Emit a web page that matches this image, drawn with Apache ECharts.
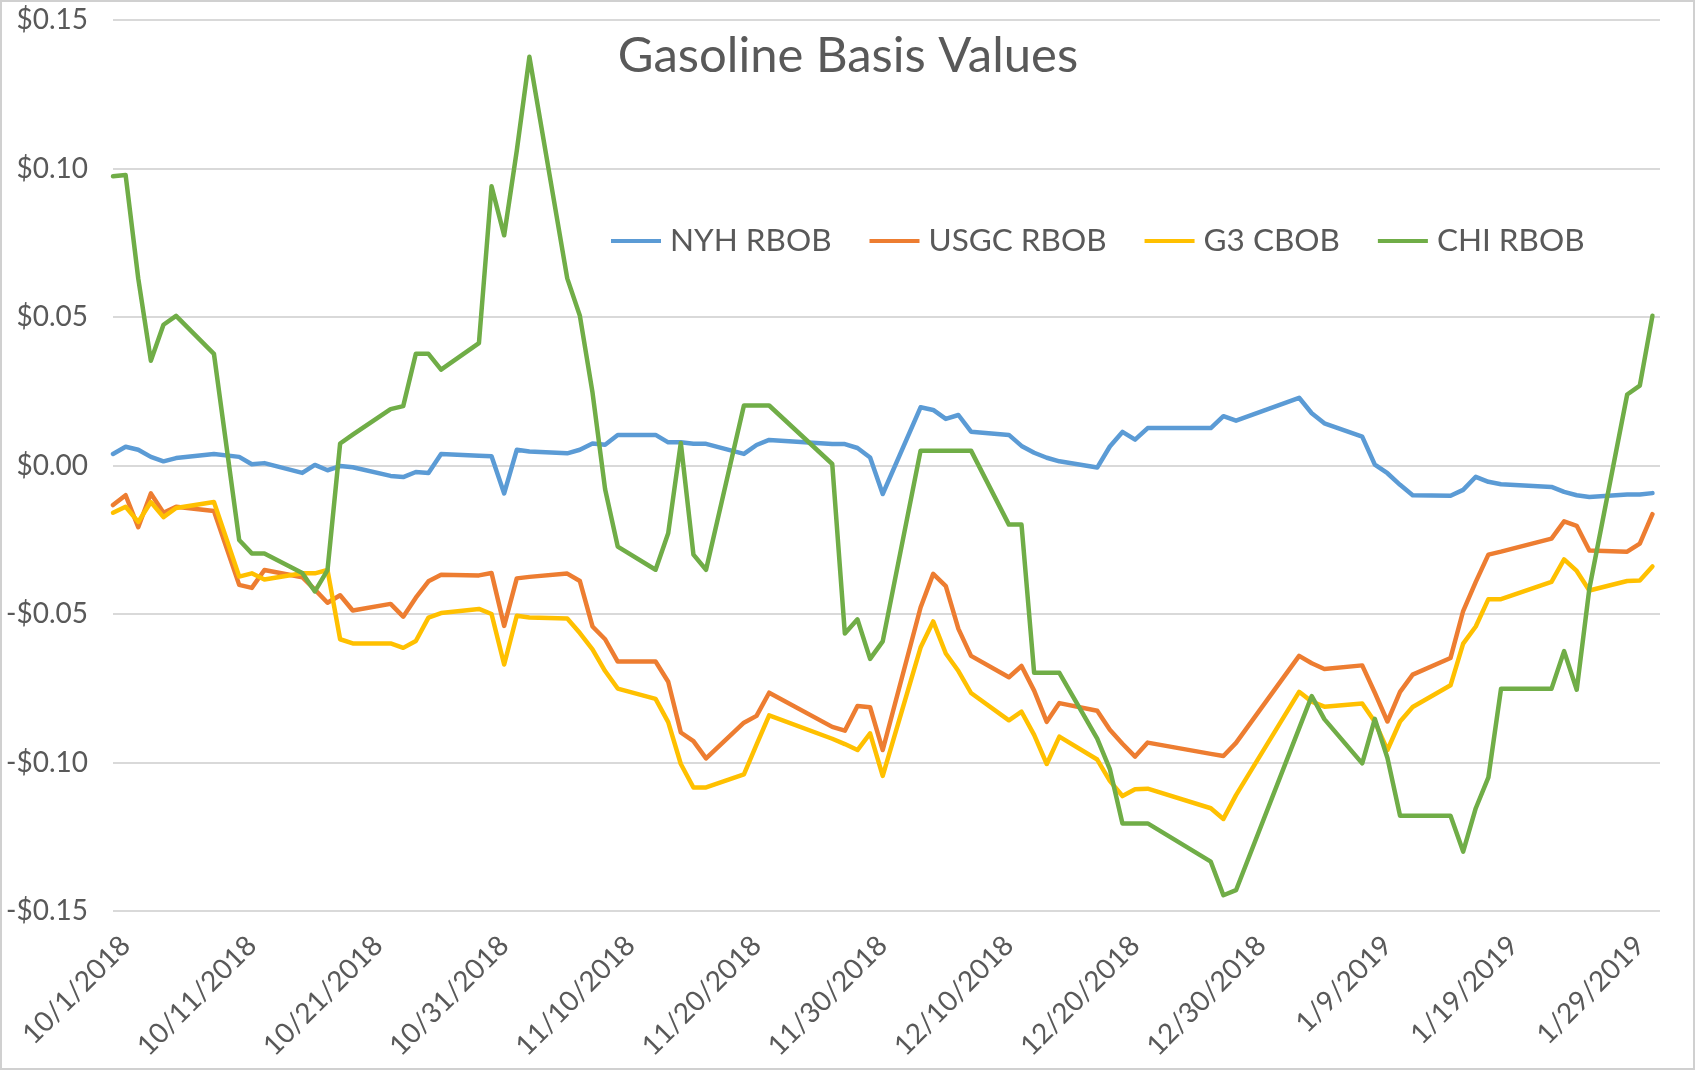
<!DOCTYPE html>
<html>
<head>
<meta charset="utf-8">
<script src="https://cdn.jsdelivr.net/npm/echarts@6/dist/echarts.min.js"></script>
<style>
html,body{margin:0;padding:0;background:#ffffff;}
#chart{width:1696px;height:1071px;}
</style>
</head>
<body>
<div id="chart"></div>
<script>
// ---- data ----
const dates = [
  '2018-09-30','2018-10-01','2018-10-02','2018-10-03','2018-10-04','2018-10-05',
  '2018-10-08','2018-10-10','2018-10-11','2018-10-12',
  '2018-10-15','2018-10-16','2018-10-17','2018-10-18','2018-10-19',
  '2018-10-22','2018-10-23','2018-10-24','2018-10-25','2018-10-26',
  '2018-10-29','2018-10-30','2018-10-31','2018-11-01','2018-11-02',
  '2018-11-05','2018-11-06','2018-11-07','2018-11-08','2018-11-09',
  '2018-11-12','2018-11-13','2018-11-14','2018-11-15','2018-11-16',
  '2018-11-19','2018-11-20','2018-11-21',
  '2018-11-26','2018-11-27','2018-11-28','2018-11-29','2018-11-30',
  '2018-12-03','2018-12-04','2018-12-05','2018-12-06','2018-12-07',
  '2018-12-10','2018-12-11','2018-12-12','2018-12-13','2018-12-14',
  '2018-12-17','2018-12-18','2018-12-19','2018-12-20','2018-12-21',
  '2018-12-26','2018-12-27','2018-12-28',
  '2019-01-02','2019-01-03','2019-01-04',
  '2019-01-07','2019-01-08','2019-01-09','2019-01-10','2019-01-11',
  '2019-01-14','2019-01-15','2019-01-16','2019-01-17','2019-01-18',
  '2019-01-22','2019-01-23','2019-01-24','2019-01-25',
  '2019-01-28','2019-01-29','2019-01-30'
];

const nyhRbob = [
  0.0039,0.0063,0.0053,0.0029,0.0014,0.0025,
  0.0039,0.0029,0.0004,0.0008,
  -0.0025,0.0002,-0.0016,-0.0002,-0.0006,
  -0.0035,-0.0039,-0.0022,-0.0025,0.0039,
  0.0033,0.0031,-0.0094,0.0053,0.0047,
  0.0041,0.0053,0.0074,0.0070,0.0103,
  0.0103,0.0078,0.0078,0.0073,0.0073,
  0.0039,0.0069,0.0086,
  0.0072,0.0072,0.0059,0.0027,-0.0096,
  0.0196,0.0187,0.0157,0.0170,0.0114,
  0.0103,0.0066,0.0043,0.0026,0.0014,
  -0.0007,0.0064,0.0113,0.0087,0.0126,
  0.0126,0.0166,0.0151,
  0.0228,0.0176,0.0142,
  0.0097,0.0003,-0.0026,-0.0065,-0.0100,
  -0.0102,-0.0082,-0.0038,-0.0055,-0.0063,
  -0.0072,-0.0089,-0.0100,-0.0106,
  -0.0098,-0.0098,-0.0093
];

const usgcRbob = [
  -0.0133,-0.0100,-0.0208,-0.0094,-0.0159,-0.0139,
  -0.0153,-0.0402,-0.0412,-0.0352,
  -0.0376,-0.0418,-0.0462,-0.0437,-0.0488,
  -0.0466,-0.0509,-0.0445,-0.0390,-0.0368,
  -0.0370,-0.0362,-0.0540,-0.0380,-0.0375,
  -0.0364,-0.0389,-0.0542,-0.0585,-0.0660,
  -0.0660,-0.0728,-0.0899,-0.0928,-0.0986,
  -0.0866,-0.0843,-0.0765,
  -0.0880,-0.0893,-0.0810,-0.0814,-0.0958,
  -0.0478,-0.0365,-0.0406,-0.0550,-0.0641,
  -0.0713,-0.0675,-0.0758,-0.0863,-0.0800,
  -0.0826,-0.0890,-0.0937,-0.0980,-0.0933,
  -0.0971,-0.0978,-0.0934,
  -0.0641,-0.0666,-0.0685,
  -0.0673,-0.0765,-0.0862,-0.0762,-0.0704,
  -0.0648,-0.0490,-0.0392,-0.0300,-0.0290,
  -0.0246,-0.0188,-0.0203,-0.0286,
  -0.0290,-0.0263,-0.0164
];

const g3Cbob = [
  -0.0159,-0.0139,-0.0190,-0.0123,-0.0174,-0.0143,
  -0.0123,-0.0374,-0.0363,-0.0384,
  -0.0363,-0.0363,-0.0352,-0.0585,-0.0599,
  -0.0599,-0.0614,-0.0591,-0.0512,-0.0497,
  -0.0483,-0.0500,-0.0670,-0.0506,-0.0512,
  -0.0515,-0.0564,-0.0619,-0.0692,-0.0751,
  -0.0786,-0.0864,-0.1005,-0.1084,-0.1084,
  -0.1040,-0.0940,-0.0841,
  -0.0920,-0.0938,-0.0958,-0.0902,-0.1045,
  -0.0613,-0.0525,-0.0633,-0.0692,-0.0766,
  -0.0858,-0.0829,-0.0907,-0.1005,-0.0913,
  -0.0990,-0.1062,-0.1113,-0.1090,-0.1088,
  -0.1154,-0.1190,-0.1110,
  -0.0762,-0.0795,-0.0812,
  -0.0801,-0.0863,-0.0958,-0.0862,-0.0813,
  -0.0740,-0.0600,-0.0542,-0.0450,-0.0450,
  -0.0392,-0.0316,-0.0355,-0.0421,
  -0.0389,-0.0387,-0.0340
];

const chiRbob = [
  0.0974,0.0978,0.0630,0.0353,0.0474,0.0504,
  0.0376,-0.0251,-0.0296,-0.0296,
  -0.0362,-0.0424,-0.0352,0.0074,0.0104,
  0.0190,0.0200,0.0376,0.0376,0.0323,
  0.0412,0.0940,0.0775,0.1060,0.1376,
  0.0630,0.0504,0.0246,-0.0080,-0.0273,
  -0.0351,-0.0228,0.0076,-0.0300,-0.0351,
  0.0202,0.0202,0.0202,
  0.0005,-0.0566,-0.0518,-0.0651,-0.0592,
  0.0050,0.0050,0.0050,0.0050,0.0050,
  -0.0199,-0.0199,-0.0698,-0.0698,-0.0698,
  -0.0920,-0.1022,-0.1205,-0.1205,-0.1205,
  -0.1334,-0.1447,-0.1430,
  -0.0885,-0.0776,-0.0854,
  -0.1003,-0.0853,-0.0985,-0.1179,-0.1179,
  -0.1179,-0.1300,-0.1154,-0.1050,-0.0752,
  -0.0752,-0.0625,-0.0755,-0.0415,
  0.0239,0.0269,0.0504
];

const seriesNames = ['NYH RBOB', 'USGC RBOB', 'G3 CBOB', 'CHI RBOB'];
const seriesColors = ['#5B9BD5', '#ED7D31', '#FFC000', '#70AD47'];
const xTickDates = [
  '2018-10-01','2018-10-11','2018-10-21','2018-10-31','2018-11-10','2018-11-20',
  '2018-11-30','2018-12-10','2018-12-20','2018-12-30','2019-01-09','2019-01-19','2019-01-29'
];
const titleText = 'Gasoline Basis Values';

// ---- helpers ----
const DAY = 86400000;
function ts(s) {
  const p = s.split('-').map(Number);
  return Date.UTC(p[0], p[1] - 1, p[2]);
}
function fmtDate(v) {
  const d = new Date(Math.round(v));
  return (d.getUTCMonth() + 1) + '/' + d.getUTCDate() + '/' + d.getUTCFullYear();
}
function fmtMoney(v) {
  const r = Math.round(v * 100) / 100;
  return (r < 0 ? '-' : '') + '$' + Math.abs(r).toFixed(2);
}
function pairs(vals) {
  return dates.map((d, i) => [ts(d), vals[i]]);
}

const allValues = [nyhRbob, usgcRbob, g3Cbob, chiRbob];
const FONT = 'Lato';
const GRAY = '#595959';

const chart = echarts.init(document.getElementById('chart'), null, {renderer: 'canvas'});
chart.setOption({
  backgroundColor: '#ffffff',
  animation: false,
  textStyle: {fontFamily: FONT},
  title: {
    text: titleText,
    left: 'center',
    top: 27,
    textStyle: {fontFamily: FONT, fontSize: 49, fontWeight: 'normal', color: GRAY}
  },
  legend: {
    left: 606,
    top: 220,
    icon: 'rect',
    itemWidth: 50,
    itemHeight: 4,
    itemGap: 38,
    data: seriesNames,
    textStyle: {fontFamily: FONT, fontSize: 31.5, color: GRAY, padding: [0, 0, 0, 4]}
  },
  grid: {left: 113, right: 36, top: 20, bottom: 160, containLabel: false},
  xAxis: {
    type: 'value',
    min: ts(dates[0]),
    max: ts('2019-01-30') + 0.6 * DAY,
    axisLine: {show: false},
    axisTick: {show: false},
    splitLine: {show: false},
    axisLabel: {
      customValues: xTickDates.map(ts),
      formatter: fmtDate,
      rotate: 45,
      margin: 30,
      fontFamily: FONT,
      fontSize: 28,
      color: GRAY,
      hideOverlap: false
    }
  },
  yAxis: {
    type: 'value',
    min: -0.15,
    max: 0.15,
    interval: 0.05,
    axisLine: {show: false},
    axisTick: {show: false},
    splitLine: {lineStyle: {color: '#d9d9d9', width: 2}},
    axisLabel: {
      formatter: fmtMoney,
      margin: 25,
      fontFamily: FONT,
      fontSize: 28,
      color: GRAY
    }
  },
  graphic: [{
    type: 'rect',
    silent: true,
    shape: {x: 1, y: 1, width: 1693, height: 1068},
    style: {fill: null, stroke: '#d0d0d0', lineWidth: 2}
  }],
  series: seriesNames.map((name, i) => ({
    name: name,
    type: 'line',
    data: pairs(allValues[i]),
    symbol: 'none',
    smooth: false,
    color: seriesColors[i],
    lineStyle: {width: 4.5, color: seriesColors[i], cap: 'round', join: 'round'},
    itemStyle: {color: seriesColors[i]}
  }))
});
</script>
</body>
</html>
